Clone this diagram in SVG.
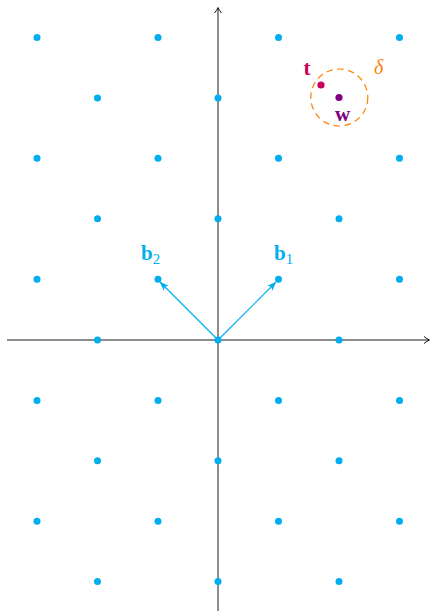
<svg xmlns="http://www.w3.org/2000/svg" width="430" height="611" viewBox="0 0 430 611">
<style>
.ax{stroke:#000;stroke-width:0.9;fill:none}
.lp{fill:#00AEEF}
.vec{stroke:#00AEEF;stroke-width:1.2;fill:none}
.lbl{font-family:"Liberation Serif",serif;font-weight:bold;font-size:21px}
.sub{font-family:"Liberation Serif",serif;font-weight:normal;font-size:15px}
</style>
<defs>
<marker id="open" markerWidth="10" markerHeight="10" refX="7" refY="5" orient="auto" markerUnits="userSpaceOnUse">
<path d="M2,1.5 Q5,4 7.5,5 Q5,6 2,8.5" fill="none" stroke="#000" stroke-width="0.9"/>
</marker>
<marker id="tri" markerWidth="10" markerHeight="10" refX="8" refY="5" orient="auto" markerUnits="userSpaceOnUse">
<path d="M0,1.5 L9,5 L0,8.5 L2,5 Z" fill="#00AEEF"/>
</marker>
</defs>
<g id="connectors">
<line class="ax" x1="7" y1="340" x2="429" y2="340" marker-end="url(#open)"/>
<line class="ax" x1="218" y1="611" x2="218" y2="8" marker-end="url(#open)"/>
<line id="b1-vec" class="vec" x1="218" y1="340" x2="275.5" y2="282.5" marker-end="url(#tri)"/>
<line id="b2-vec" class="vec" x1="218" y1="340" x2="160.5" y2="282.5" marker-end="url(#tri)"/>
</g>
<g id="lattice">
<circle class="lp" cx="37" cy="37.5" r="3.5"/><circle class="lp" cx="158" cy="37.5" r="3.5"/><circle class="lp" cx="278.5" cy="37.5" r="3.5"/><circle class="lp" cx="399.5" cy="37.5" r="3.5"/>
<circle class="lp" cx="97.5" cy="98" r="3.5"/><circle class="lp" cx="218" cy="98" r="3.5"/>
<circle class="lp" cx="37" cy="158.3" r="3.5"/><circle class="lp" cx="158" cy="158.3" r="3.5"/><circle class="lp" cx="278.5" cy="158.3" r="3.5"/><circle class="lp" cx="399.5" cy="158.3" r="3.5"/>
<circle class="lp" cx="97.5" cy="218.7" r="3.5"/><circle class="lp" cx="218" cy="218.7" r="3.5"/><circle class="lp" cx="339" cy="218.7" r="3.5"/>
<circle class="lp" cx="37" cy="279.2" r="3.5"/><circle class="lp" cx="158" cy="279.2" r="3.5"/><circle class="lp" cx="278.5" cy="279.2" r="3.5"/><circle class="lp" cx="399.5" cy="279.2" r="3.5"/>
<circle class="lp" cx="97.5" cy="340" r="3.5"/><circle class="lp" cx="218" cy="340" r="3.5"/><circle class="lp" cx="339" cy="340" r="3.5"/>
<circle class="lp" cx="37" cy="400.4" r="3.5"/><circle class="lp" cx="158" cy="400.4" r="3.5"/><circle class="lp" cx="278.5" cy="400.4" r="3.5"/><circle class="lp" cx="399.5" cy="400.4" r="3.5"/>
<circle class="lp" cx="97.5" cy="460.8" r="3.5"/><circle class="lp" cx="218" cy="460.8" r="3.5"/><circle class="lp" cx="339" cy="460.8" r="3.5"/>
<circle class="lp" cx="37" cy="521.2" r="3.5"/><circle class="lp" cx="158" cy="521.2" r="3.5"/><circle class="lp" cx="278.5" cy="521.2" r="3.5"/><circle class="lp" cx="399.5" cy="521.2" r="3.5"/>
<circle class="lp" cx="97.5" cy="581.5" r="3.5"/><circle class="lp" cx="218" cy="581.5" r="3.5"/><circle class="lp" cx="339" cy="581.5" r="3.5"/>
</g>
<g id="b1">
<text class="lbl" x="274" y="260" fill="#00AEEF">b<tspan class="sub" dy="3.5">1</tspan></text>
</g>
<g id="b2">
<text class="lbl" x="141" y="260" fill="#00AEEF">b<tspan class="sub" dy="3.5">2</tspan></text>
</g>
<g id="delta">
<circle cx="339.3" cy="97.5" r="28.5" fill="none" stroke="#FF8000" stroke-width="1.2" stroke-dasharray="6.5,4.5"/>
<text x="374" y="74" fill="#FF8000" font-family="Liberation Serif,serif" font-style="italic" font-size="20px">δ</text>
</g>
<g id="t">
<circle cx="321" cy="85" r="3.6" fill="#C8005A"/>
<text class="lbl" x="303.5" y="74.5" fill="#C8005A">t</text>
</g>
<g id="w">
<circle cx="339" cy="97.5" r="3.6" fill="#800080"/>
<text class="lbl" x="335" y="121" fill="#800080">w</text>
</g>
</svg>
